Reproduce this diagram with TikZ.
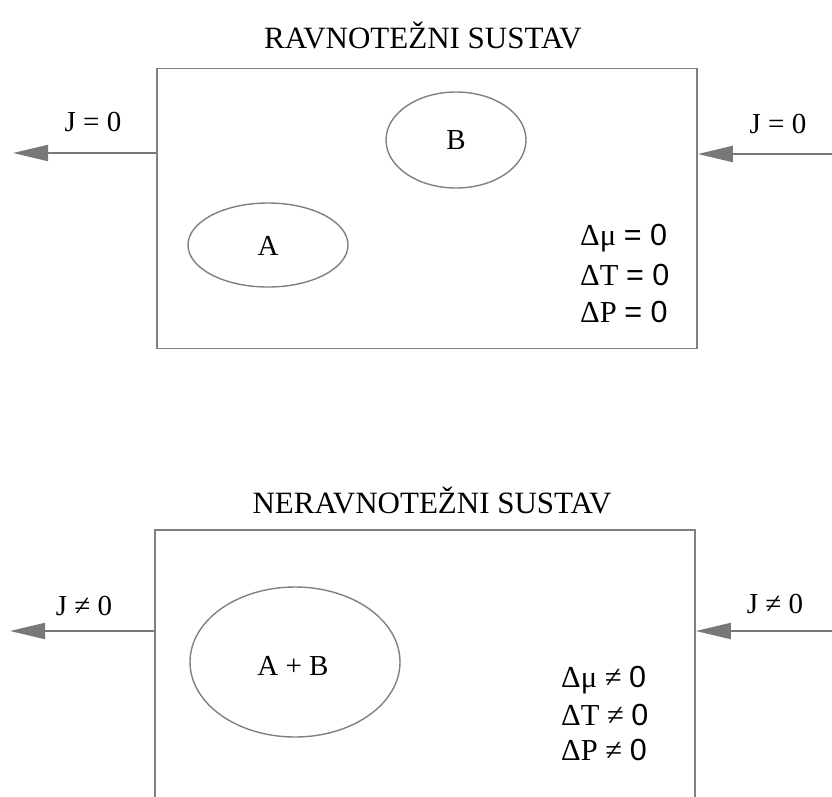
\documentclass[tikz,border=0pt]{standalone}
\usepackage{fontspec}
\setmainfont{Liberation Serif}
\newfontfamily\arialf{Liberation Sans}
\usetikzlibrary{arrows.meta,shapes.geometric}
\definecolor{linegray}{RGB}{128,128,128}
\definecolor{arrgray}{RGB}{120,120,120}
\tikzset{
  sysbox/.style={draw=linegray, line width=1.6pt, rectangle, inner sep=0pt},
  blob/.style={draw=linegray, line width=1.4pt, ellipse, inner sep=0pt},
  flux/.style={draw=arrgray, line width=2pt, -{Triangle[length=35pt,width=16pt]}},
  title/.style={font=\fontsize{31}{35}\selectfont, inner sep=0pt},
  lbl/.style={font=\fontsize{29}{33}\selectfont, inner sep=0pt},
  cond/.style={font=\fontsize{30.5}{34}\selectfont, inner sep=0pt, anchor=west},
}
\begin{document}
\begin{tikzpicture}[x=1pt,y=-1pt]
\useasboundingbox (0,0) rectangle (832,796);
\begin{scope}
\clip (0,0) rectangle (832,796);
% top system
\node[title] (t1) at (423,35) {RAVNOTEŽNI SUSTAV};
\node[sysbox, minimum width=540pt, minimum height=280pt] (top) at (427,208.5) {};
\node[blob, minimum width=140pt, minimum height=96pt] (eB) at (456,140) {};
\node[blob, minimum width=160pt, minimum height=84pt] (eA) at (268,245) {};
\node[lbl] (lB) at (456,140) {B};
\node[lbl] (lA) at (268,246) {A};
\node[lbl] (j1) at (93,122) {J = 0};
\node[lbl] (j2) at (778,124) {J = 0};
\coordinate (tl) at (13,153);
\coordinate (tr) at (832,154);
\draw[flux] (top.west |- tl) -- (tl);
\draw[flux] (tr) -- (top.east |- tr);
\node[cond] (c1) at (580,238) {Δμ {\arialf = 0}};
\node[cond] (c2) at (580,275) {ΔT {\arialf = 0}};
\node[cond] (c3) at (580,312) {ΔP {\arialf = 0}};
% bottom system
\node[title] (t2) at (432,500) {NERAVNOTEŽNI SUSTAV};
\node[sysbox, minimum width=540pt, minimum height=290pt] (bot) at (425,675) {};
\node[blob, minimum width=210pt, minimum height=150pt] (eAB) at (295,662) {};
\node[lbl] (lAB) at (293,666) {A + B};
\node[lbl] (j3) at (84,606) {J ≠ 0};
\node[lbl] (j4) at (775,604) {J ≠ 0};
\coordinate (bl) at (10,631);
\coordinate (br) at (832,631);
\draw[flux] (bot.west |- bl) -- (bl);
\draw[flux] (br) -- (bot.east |- br);
\node[cond] (c4) at (561,680) {Δμ ≠ {\arialf 0}};
\node[cond] (c5) at (561,715) {ΔT ≠ {\arialf 0}};
\node[cond] (c6) at (561,750) {ΔP ≠ {\arialf 0}};
\end{scope}
\end{tikzpicture}
\end{document}
